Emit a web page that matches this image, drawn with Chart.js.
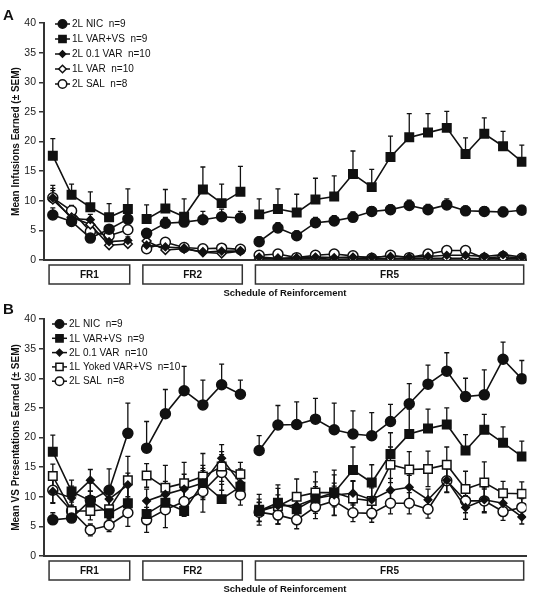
<!DOCTYPE html>
<html>
<head>
<meta charset="utf-8">
<script src="https://cdn.jsdelivr.net/npm/chart.js@4.4.1/dist/chart.umd.min.js"></script>
<style>
  body { margin: 0; background: #fff; }
  .panel { position: absolute; left: 0; }
  .tag { position: absolute; left: 3px; font: bold 15px "Liberation Sans", Arial, sans-serif; color: #111; }
</style>
</head>
<body>
<div class="panel" style="top:0"><canvas id="panelA" width="534" height="300"></canvas></div>
<div class="panel" style="top:300px"><canvas id="panelB" width="534" height="299"></canvas></div>
<div class="tag" style="top:6px">A</div>
<div class="tag" style="top:300px">B</div>
<script>
// sessions 0..25, split into three schedules
const phaseNames = ['FR1', 'FR2', 'FR5'];
const phaseFirst = [0, 5, 11];
const phaseLast = [4, 10, 25];
const sessions = Array.from({ length: 26 }, (_, i) => i);

// Panel A: mean infusions earned
const nicA      = [7.6, 6.5, 3.7, 5.2, 6.9, 4.5, 6.2, 6.4, 6.8, 7.3, 7.1, 3.1, 5.4, 4.1, 6.3, 6.6, 7.2, 8.2, 8.5, 9.2, 8.5, 9.3, 8.3, 8.2, 8.1, 8.4];
const nicAErr   = [1.2, 0.6, 0.5, 0.6, 0.9, 0.8, 1.0, 0.6, 1.4, 1.3, 1.1, 0.8, 0.9, 0.8, 0.9, 0.9, 0.9, 0.8, 0.8, 0.9, 0.9, 1.0, 0.8, 0.8, 0.8, 0.8];
const varvsA    = [17.6, 11.0, 8.9, 7.2, 8.6, 6.9, 8.7, 7.3, 11.9, 9.6, 11.5, 7.7, 8.6, 8.0, 10.2, 10.7, 14.5, 12.3, 17.4, 20.7, 21.5, 22.3, 17.9, 21.3, 19.2, 16.6];
const varvsAErr = [2.9, 1.8, 2.6, 2.3, 3.4, 2.4, 3.2, 3.0, 3.8, 3.2, 4.3, 2.6, 3.4, 3.1, 3.6, 3.5, 3.9, 3.0, 3.5, 4.0, 3.2, 2.8, 2.7, 2.7, 2.5, 2.8];
const var01A    = [10.5, 7.0, 6.8, 3.1, 3.3, 2.5, 2.2, 2.0, 1.3, 1.5, 1.5, 0.5, 0.3, 0.4, 0.5, 0.4, 0.5, 0.5, 0.6, 0.5, 0.6, 0.8, 0.8, 0.6, 0.9, 0.5];
const var01AErr = [2.1, 0.8, 0.9, 0.6, 0.6, 0.5, 0.4, 0.3, 0.3, 0.3, 0.3, 0.2, 0.2, 0.2, 0.2, 0.2, 0.2, 0.2, 0.2, 0.2, 0.2, 0.2, 0.2, 0.2, 0.2, 0.2];
const var1A     = [10.2, 7.2, 6.0, 2.5, 2.7, 3.2, 1.7, 1.9, 1.3, 1.1, 1.5, 0.2, 0.2, 0.2, 0.3, 0.1, 0.2, 0.2, 0.2, 0.3, 0.3, 0.3, 0.3, 0.2, 0.3, 0.2];
const var1AErr  = [1.5, 0.8, 0.8, 0.5, 0.5, 0.5, 0.3, 0.3, 0.3, 0.3, 0.3, 0.1, 0.1, 0.1, 0.1, 0.1, 0.1, 0.1, 0.1, 0.1, 0.1, 0.1, 0.1, 0.1, 0.1, 0.1];
const salA      = [10.5, 8.3, 4.8, 4.1, 5.1, 1.9, 3.0, 2.1, 1.9, 2.0, 1.8, 0.8, 1.0, 0.4, 0.8, 1.0, 0.7, 0.3, 0.8, 0.4, 1.0, 1.6, 1.6, 0.3, 0.6, 0.3];
const salAErr   = [1.6, 0.9, 0.8, 0.7, 0.8, 0.4, 0.5, 0.4, 0.3, 0.3, 0.3, 0.3, 0.3, 0.2, 0.3, 0.3, 0.2, 0.2, 0.3, 0.2, 0.3, 0.4, 0.4, 0.2, 0.2, 0.2];

// Panel B: mean VS presentations earned
const nicB      = [6.1, 6.4, 9.4, 11.1, 20.7, 18.2, 24.0, 27.9, 25.5, 28.9, 27.3, 17.8, 22.1, 22.2, 23.1, 21.3, 20.6, 20.3, 22.7, 25.7, 29.0, 31.2, 26.9, 27.2, 33.2, 29.9];
const nicBErr   = [1.2, 0.5, 1.5, 3.6, 5.1, 4.5, 4.1, 4.1, 4.2, 3.5, 2.4, 2.5, 3.3, 3.8, 3.5, 4.5, 3.9, 3.9, 2.9, 3.4, 3.2, 3.1, 3.1, 4.2, 2.9, 3.1];
const varvsB    = [17.6, 10.9, 9.3, 7.2, 8.9, 7.1, 9.0, 7.6, 12.3, 9.6, 11.7, 7.6, 9.0, 7.9, 9.7, 10.7, 14.5, 12.4, 17.2, 20.6, 21.5, 22.2, 17.8, 21.3, 19.1, 16.8];
const varvsBErr = [2.8, 1.9, 3.0, 3.5, 3.0, 2.0, 3.0, 2.0, 3.0, 2.5, 3.0, 2.0, 3.0, 2.5, 2.8, 3.0, 3.9, 3.0, 3.6, 4.2, 3.3, 2.8, 2.7, 2.6, 2.7, 2.6];
const var01B    = [10.9, 9.8, 12.8, 9.6, 12.0, 9.3, 10.4, 11.3, 12.3, 16.5, 12.3, 7.5, 8.5, 8.5, 9.7, 10.3, 10.6, 9.5, 11.1, 11.6, 9.5, 12.8, 8.2, 9.5, 8.9, 6.6];
const var01BErr = [2.0, 2.0, 1.8, 2.0, 2.0, 2.0, 2.2, 2.5, 2.5, 2.3, 2.0, 1.6, 1.8, 1.8, 2.0, 2.0, 2.0, 2.0, 2.0, 2.0, 1.8, 2.0, 2.0, 2.0, 1.8, 1.2];
const yokedB    = [13.5, 7.6, 7.6, 7.9, 12.8, 13.6, 11.5, 12.3, 13.4, 15.1, 13.8, 7.8, 8.4, 10.0, 10.7, 10.7, 9.7, 9.3, 15.4, 14.6, 14.7, 15.4, 11.3, 12.4, 10.6, 10.5];
const yokedBErr = [2.0, 1.5, 1.5, 1.8, 4.0, 2.0, 3.8, 3.5, 3.9, 2.5, 2.0, 2.6, 3.0, 3.0, 3.5, 3.8, 3.0, 3.0, 3.0, 3.0, 3.0, 3.0, 3.0, 3.5, 2.0, 2.0];
const salB      = [11.1, 7.6, 4.4, 5.2, 7.3, 6.1, 7.8, 9.2, 10.9, 14.1, 10.3, 7.4, 6.9, 6.1, 8.3, 9.3, 7.3, 7.2, 8.9, 8.9, 7.9, 12.7, 9.3, 9.3, 7.5, 8.2];
const salBErr   = [2.1, 1.0, 1.0, 1.1, 2.3, 2.1, 3.0, 2.5, 3.5, 3.0, 1.7, 1.6, 1.5, 1.5, 2.0, 2.5, 1.5, 1.5, 1.8, 1.8, 1.5, 2.0, 2.0, 2.0, 1.5, 1.5];

const INK = '#111';
const FONT = '"Liberation Sans", Arial, sans-serif';

// marker looks per group
const styles = {
    nic:   { pointStyle: 'circle',  radius: 5,   fill: INK },
    varvs: { pointStyle: 'rect',    radius: 6,   fill: INK },
    var01: { pointStyle: 'rectRot', radius: 3.8, fill: INK },
    var1:  { pointStyle: 'rectRot', radius: 4.4, fill: '#fff' },
    yoked: { pointStyle: 'rect',    radius: 6,   fill: '#fff' },
    sal:   { pointStyle: 'circle',  radius: 5,   fill: '#fff' }
};

function series(label, key, values, errs, both) {
    const st = styles[key];
    return {
        label: label,
        data: sessions.map(i => ({ x: i, y: values[i] })),
        errors: errs,
        bothWays: both,
        borderColor: INK,
        borderWidth: 1.6,
        backgroundColor: st.fill,
        pointStyle: st.pointStyle,
        pointRadius: st.radius,
        pointBackgroundColor: st.fill,
        pointBorderColor: INK,
        pointBorderWidth: 1.5,
        tension: 0,
        segment: {
            // no line between the last session of one schedule and the first of the next
            borderColor: ctx => phaseLast.includes(ctx.p0DataIndex) ? 'rgba(0,0,0,0)' : INK
        }
    };
}

// error bars: drawn under the markers
const errorBars = {
    id: 'errorBars',
    beforeDatasetsDraw(chart) {
        const ctx = chart.ctx;
        const y = chart.scales.y;
        ctx.save();
        ctx.strokeStyle = INK;
        ctx.lineWidth = 1.3;
        chart.data.datasets.forEach((ds, di) => {
            const meta = chart.getDatasetMeta(di);
            meta.data.forEach((pt, i) => {
                const v = ds.data[i].y, e = ds.errors[i];
                const top = y.getPixelForValue(v + e);
                const bot = ds.bothWays ? y.getPixelForValue(Math.max(0, v - e)) : pt.y;
                ctx.beginPath();
                ctx.moveTo(pt.x, top); ctx.lineTo(pt.x, bot);
                ctx.moveTo(pt.x - 2.5, top); ctx.lineTo(pt.x + 2.5, top);
                if (ds.bothWays) { ctx.moveTo(pt.x - 2.5, bot); ctx.lineTo(pt.x + 2.5, bot); }
                ctx.stroke();
            });
        });
        ctx.restore();
    }
};

// schedule boxes and axis caption under the plot
const phaseBoxes = {
    id: 'phaseBoxes',
    afterDraw(chart) {
        const ctx = chart.ctx;
        const x = chart.scales.x;
        const base = chart.chartArea.bottom;
        ctx.save();
        ctx.strokeStyle = '#333';
        ctx.lineWidth = 1.5;
        ctx.fillStyle = INK;
        ctx.textAlign = 'center';
        ctx.textBaseline = 'middle';
        phaseNames.forEach((name, k) => {
            const x0 = x.getPixelForValue(phaseFirst[k] - 0.2);
            const x1 = x.getPixelForValue(phaseLast[k] + 0.1);
            ctx.strokeRect(x0, base + 5, x1 - x0, 19);
            ctx.font = 'bold 10px ' + FONT;
            ctx.fillText(name, (x0 + x1) / 2, base + 15);
        });
        ctx.font = 'bold 9.5px ' + FONT;
        ctx.fillText('Schedule of Reinforcement', 285, base + 33);
        ctx.restore();
    }
};

function drawShape(ctx, style, r, x, y) {
    if (style === 'circle') { ctx.arc(x, y, r, 0, Math.PI * 2); }
    else if (style === 'rect') { const s = r * Math.SQRT1_2; ctx.rect(x - s, y - s, 2 * s, 2 * s); }
    else { ctx.moveTo(x, y - r); ctx.lineTo(x + r, y); ctx.lineTo(x, y + r); ctx.lineTo(x - r, y); ctx.closePath(); }
}

// legend: short line with the group's marker, then the label
const lineLegend = {
    id: 'lineLegend',
    afterDraw(chart, args, opts) {
        const ctx = chart.ctx;
        const a = chart.chartArea;
        ctx.save();
        chart.data.datasets.forEach((ds, i) => {
            const yy = a.top + opts.top + i * opts.step;
            const x0 = a.left + opts.left;
            ctx.strokeStyle = INK;
            ctx.lineWidth = 1.5;
            ctx.beginPath();
            ctx.moveTo(x0, yy); ctx.lineTo(x0 + 15, yy);
            ctx.stroke();
            ctx.fillStyle = ds.pointBackgroundColor;
            ctx.beginPath();
            drawShape(ctx, ds.pointStyle, ds.pointRadius * 0.85, x0 + 7.5, yy);
            ctx.fill(); ctx.stroke();
            ctx.fillStyle = INK;
            ctx.font = '10px ' + FONT;
            ctx.textBaseline = 'middle';
            ctx.fillText(ds.label, x0 + 17, yy + 0.5);
        });
        ctx.restore();
    }
};

function makePanel(id, datasets, yTitle, padTop, padBottom, legendOpts) {
    return new Chart(document.getElementById(id), {
        type: 'line',
        data: { datasets: datasets },
        options: {
            responsive: false,
            animation: false,
            layout: { padding: { left: 10, right: 3, top: padTop, bottom: padBottom } },
            plugins: {
                legend: { display: false },
                tooltip: { enabled: false },
                lineLegend: legendOpts
            },
            scales: {
                x: {
                    type: 'linear', min: -0.47, max: 25.25,
                    ticks: { display: false },
                    grid: { display: false },
                    border: { color: '#333', width: 2 },
                    afterFit: s => { s.height = 0; }
                },
                y: {
                    min: 0, max: 40,
                    ticks: { stepSize: 5, color: '#222', padding: 3, font: { size: 10.5, family: FONT } },
                    grid: { drawOnChartArea: false, tickLength: 5, color: '#333', lineWidth: 1.5 },
                    border: { color: '#333', width: 2 },
                    title: { display: true, text: yTitle, color: INK, padding: 0, font: { size: 10, weight: 'bold', family: FONT } },
                    afterFit: s => { s.width = 34; }
                }
            }
        },
        plugins: [errorBars, phaseBoxes, lineLegend]
    });
}

makePanel('panelA', [
    series('2L NIC  n=9', 'nic', nicA, nicAErr, false),
    series('1L VAR+VS  n=9', 'varvs', varvsA, varvsAErr, false),
    series('2L 0.1 VAR  n=10', 'var01', var01A, var01AErr, false),
    series('1L VAR  n=10', 'var1', var1A, var1AErr, false),
    series('2L SAL  n=8', 'sal', salA, salAErr, false)
], 'Mean Infusions Earned (\u00B1 SEM)', 23, 40, { left: 11, top: 1, step: 15 });

makePanel('panelB', [
    series('2L NIC  n=9', 'nic', nicB, nicBErr, false),
    series('1L VAR+VS  n=9', 'varvs', varvsB, varvsBErr, false),
    series('2L 0.1 VAR  n=10', 'var01', var01B, var01BErr, true),
    series('1L Yoked VAR+VS  n=10', 'yoked', yokedB, yokedBErr, true),
    series('2L SAL  n=8', 'sal', salB, salBErr, true)
], 'Mean VS Presentations Earned (\u00B1 SEM)', 19, 43, { left: 8, top: 5, step: 14.3 });
</script>
</body>
</html>
